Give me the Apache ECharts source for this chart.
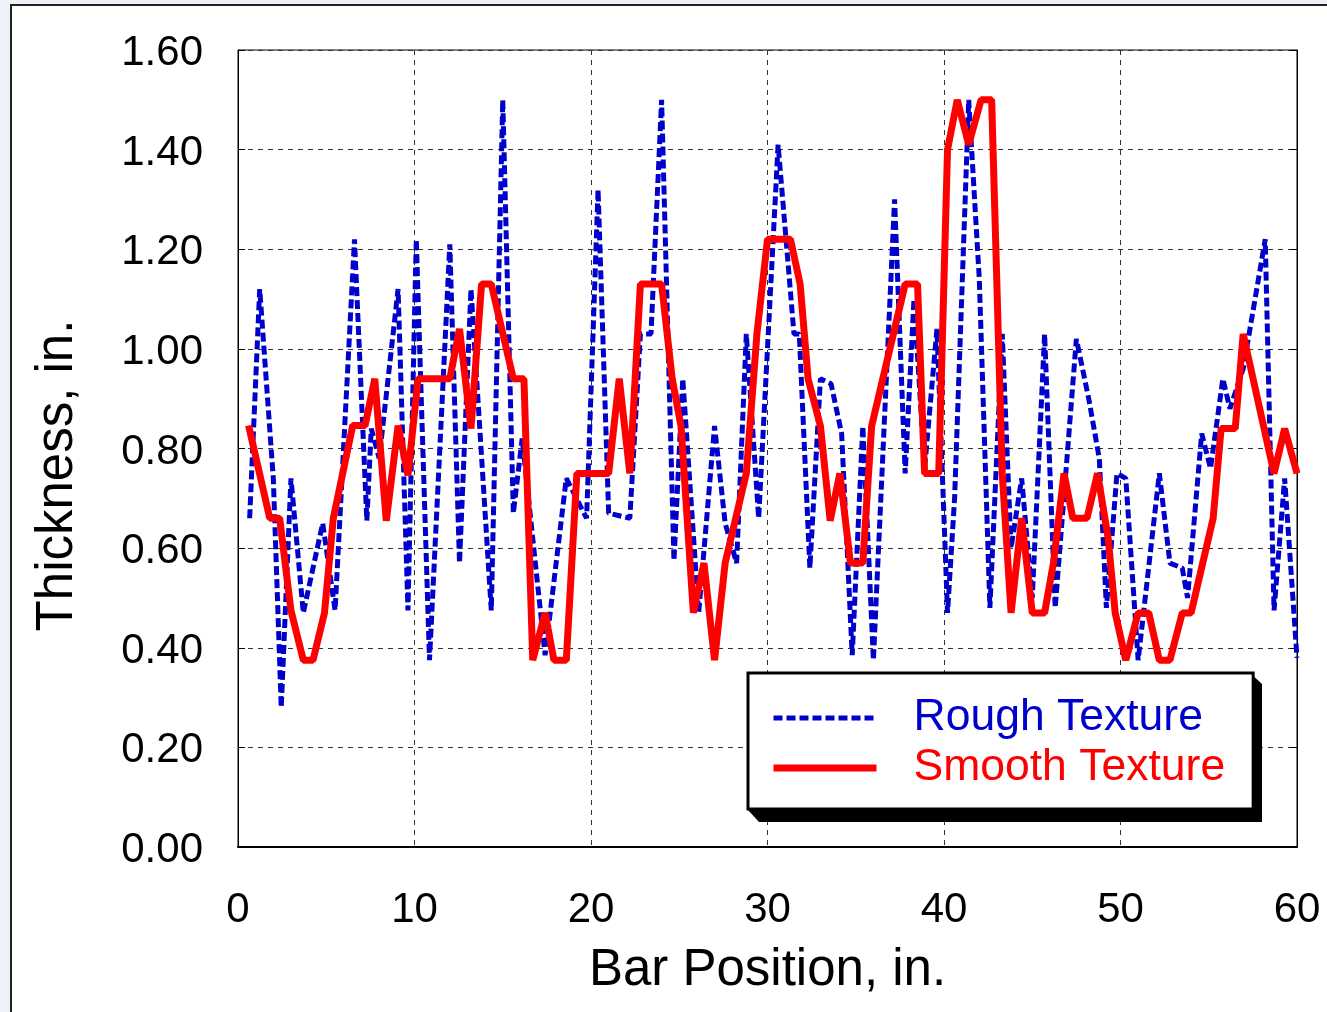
<!DOCTYPE html>
<html>
<head>
<meta charset="utf-8">
<script src="https://cdn.jsdelivr.net/npm/echarts@6/dist/echarts.min.js"></script>
<style>
  html, body { margin: 0; padding: 0; background: #fff; }
  #chart { width: 1327px; height: 1012px; }
</style>
</head>
<body>
<div id="chart"></div>
<script>
var myChart = echarts.init(document.getElementById('chart'));

// bar position (in.), thickness (in.)
var roughData = [
  [0.66,0.66],[1.23,1.12],[2.0,0.74],[2.45,0.28],[3.0,0.74],[3.7,0.47],[4.8,0.65],[5.5,0.475],
  [6.6,1.22],[7.3,0.655],[7.55,0.84],[8.0,0.78],[9.07,1.12],[9.63,0.475],[10.1,1.22],[10.85,0.375],
  [12.0,1.21],[12.55,0.57],[13.2,1.12],[14.35,0.475],[15.0,1.50],[15.6,0.67],[16.1,0.82],[17.4,0.385],
  [18.6,0.74],[19.75,0.66],[20.4,1.32],[21.0,0.67],[22.2,0.66],[22.8,1.03],[23.4,1.03],[24.0,1.50],
  [24.7,0.575],[25.2,0.94],[26.1,0.47],[27.0,0.845],[27.6,0.65],[28.25,0.57],[28.8,1.03],[29.5,0.66],
  [30.6,1.41],[31.5,1.03],[31.8,1.03],[32.4,0.56],[33.0,0.94],[33.6,0.93],[34.2,0.83],[34.8,0.385],
  [35.4,0.845],[36.0,0.375],[37.2,1.30],[37.8,0.75],[38.3,1.10],[38.9,0.76],[39.6,1.04],[40.2,0.47],
  [40.6,0.70],[41.4,1.50],[42.0,1.14],[42.6,0.48],[43.3,1.03],[43.8,0.60],[44.4,0.74],[45.0,0.50],
  [45.7,1.03],[46.3,0.48],[47.5,1.02],[48.2,0.90],[48.8,0.78],[49.2,0.48],[49.8,0.75],[50.3,0.74],
  [51.0,0.375],[52.2,0.75],[52.8,0.57],[53.5,0.56],[53.8,0.50],[54.6,0.83],[55.1,0.76],[55.8,0.94],
  [56.2,0.88],[56.95,0.96],[58.2,1.22],[58.7,0.475],[59.3,0.74],[60.0,0.38]
];

var smoothData = [
  [0.6,0.846],[1.8,0.66],[2.36,0.66],[3.0,0.475],[3.7,0.375],[4.25,0.375],[4.9,0.47],[5.4,0.66],
  [6.5,0.846],[7.2,0.846],[7.75,0.94],[8.4,0.655],[9.07,0.846],[9.63,0.746],[10.2,0.94],[12.0,0.94],
  [12.55,1.04],[13.2,0.84],[13.8,1.13],[14.35,1.13],[15.6,0.94],[16.2,0.94],[16.7,0.375],[17.4,0.47],
  [17.9,0.375],[18.6,0.375],[19.2,0.75],[21.0,0.75],[21.6,0.94],[22.2,0.75],[22.8,1.13],[24.0,1.13],
  [24.6,0.94],[25.1,0.845],[25.8,0.47],[26.4,0.57],[27.0,0.375],[27.6,0.57],[28.8,0.75],[29.4,1.03],
  [30.0,1.22],[31.3,1.22],[31.85,1.13],[32.3,0.94],[33.0,0.845],[33.55,0.655],[34.1,0.75],[34.7,0.57],
  [35.4,0.57],[35.9,0.845],[37.8,1.13],[38.5,1.13],[38.9,0.75],[39.7,0.75],[40.2,1.40],[40.75,1.50],
  [41.4,1.41],[42.1,1.50],[42.7,1.50],[43.3,0.75],[43.8,0.47],[44.4,0.66],[45.0,0.47],[45.7,0.47],
  [46.2,0.57],[46.8,0.75],[47.3,0.66],[48.1,0.66],[48.7,0.75],[49.3,0.62],[49.7,0.47],[50.3,0.375],
  [51.0,0.47],[51.6,0.47],[52.2,0.375],[52.8,0.375],[53.5,0.47],[54.0,0.47],[55.25,0.66],[55.7,0.84],
  [56.5,0.84],[56.95,1.03],[58.7,0.75],[59.3,0.84],[60.0,0.75]
];

var seriesNames = ['Rough Texture', 'Smooth Texture'];

var font = 'Liberation Sans, Arial, sans-serif';
var splitStyle = { show: true, lineStyle: { color: '#333', type: [5, 5], width: 1 } };
var noSymbol = { color: 'rgba(0,0,0,0)', borderWidth: 0 };

var option = {
    backgroundColor: '#fff',
    animation: false,
    graphic: [
        { type: 'rect', shape: { x: 0, y: 0, width: 11, height: 1012 }, style: { fill: '#eef1f7' }, silent: true },
        { type: 'rect', shape: { x: 0, y: 0, width: 1327, height: 4 }, style: { fill: '#eef1f7' }, silent: true },
        { type: 'rect', shape: { x: 11, y: 5, width: 1330, height: 1020 }, style: { fill: 'none', stroke: '#222', lineWidth: 2 }, silent: true },
        // legend drop shadow
        { type: 'polygon', z: 9, silent: true,
          shape: { points: [[1250, 673], [1262, 684], [1262, 822], [759, 822], [748, 810], [1250, 810]] },
          style: { fill: '#000' } }
    ],
    grid: {
        left: 238, top: 50, right: 30, bottom: 165,
        show: true, borderColor: '#000', borderWidth: 1, backgroundColor: 'transparent'
    },
    legend: {
        orient: 'vertical',
        left: 748, top: 673,
        z: 10,
        backgroundColor: '#fff',
        borderColor: '#000',
        borderWidth: 3,
        padding: [22, 28, 18, 22],
        itemWidth: 103,
        itemHeight: 14,
        itemGap: 4,
        data: [
            { name: 'Rough Texture', textStyle: { color: '#0000cc' }, itemStyle: noSymbol,
              lineStyle: { width: 5, type: [9, 4], color: '#0000cc' } },
            { name: 'Smooth Texture', textStyle: { color: '#ff0000' }, itemStyle: noSymbol,
              lineStyle: { width: 7, color: '#ff0000' } }
        ],
        textStyle: { fontFamily: font, fontSize: 44.5, padding: [0, 0, 0, 32], lineHeight: 46 }
    },
    xAxis: {
        type: 'value',
        min: 0, max: 60, interval: 10,
        name: 'Bar Position, in.',
        nameLocation: 'middle',
        nameGap: 98,
        nameTextStyle: { fontFamily: font, fontSize: 51, color: '#000' },
        axisLine: { show: true, lineStyle: { color: '#000', width: 2 } },
        axisTick: { show: false },
        axisLabel: { fontFamily: font, fontSize: 42, color: '#000', margin: 42 },
        splitLine: splitStyle
    },
    yAxis: [{
        type: 'value',
        min: 0, max: 1.6, interval: 0.2,
        name: 'Thickness, in.',
        nameLocation: 'middle',
        nameGap: 155,
        nameTextStyle: { fontFamily: font, fontSize: 51, color: '#000', padding: [0, 54, 0, 0] },
        axisLine: { show: true, lineStyle: { color: '#000', width: 1 } },
        axisTick: { show: true, inside: true, length: 7, lineStyle: { color: '#000' } },
        axisLabel: { fontFamily: font, fontSize: 42, color: '#000', margin: 35,
            formatter: function (v) { return '{t|' + v.toFixed(2) + '}'; },
            rich: { t: { fontFamily: font, fontSize: 42, color: '#000', padding: [7, 0, 0, 0] } } },
        splitLine: splitStyle
    }, {
        type: 'value',
        position: 'right',
        min: 0, max: 1.6, interval: 0.2,
        axisLine: { show: true, lineStyle: { color: '#000', width: 1 } },
        axisTick: { show: true, inside: true, length: 7, lineStyle: { color: '#000' } },
        axisLabel: { show: false },
        splitLine: { show: false }
    }],
    series: [
        {
            name: seriesNames[0],
            type: 'line',
            data: roughData,
            symbol: 'none',
            lineStyle: { color: '#0000cc', width: 5, type: [9, 4] },
            itemStyle: { color: '#0000cc' },
            z: 2
        },
        {
            name: seriesNames[1],
            type: 'line',
            data: smoothData,
            symbol: 'none',
            lineStyle: { color: '#ff0000', width: 7 },
            itemStyle: { color: '#ff0000' },
            z: 3
        }
    ]
};

myChart.setOption(option);
</script>
</body>
</html>
